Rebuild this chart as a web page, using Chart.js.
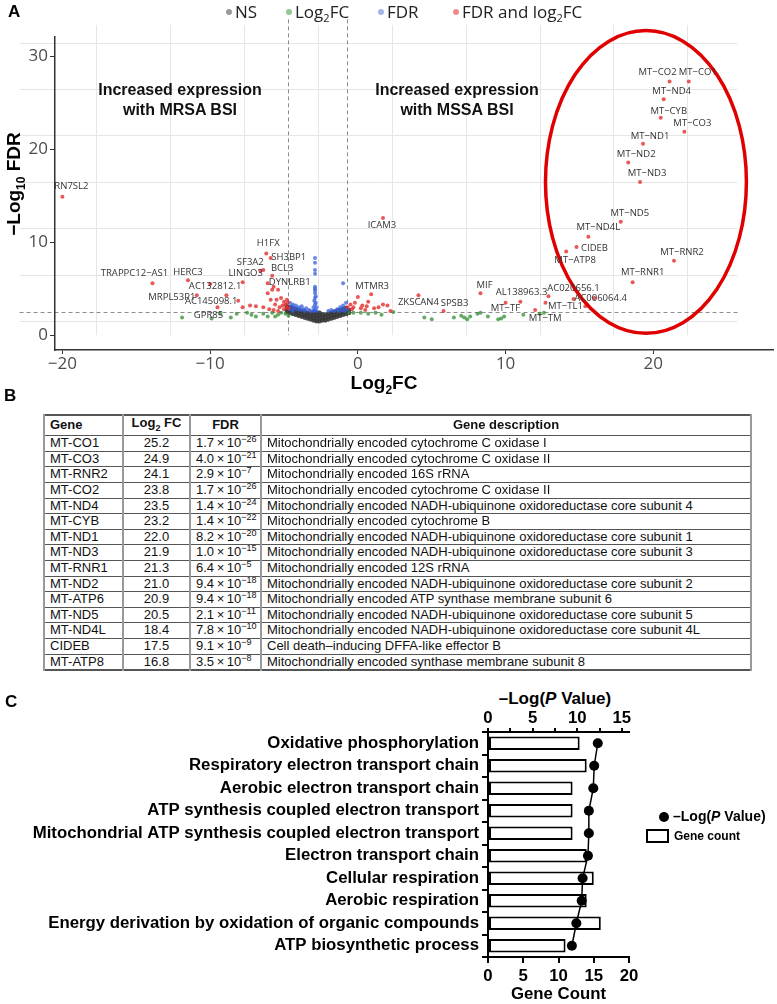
<!DOCTYPE html>
<html>
<head>
<meta charset="utf-8">
<script src="https://cdn.jsdelivr.net/npm/chart.js@4.4.0/dist/chart.umd.min.js"></script>
<style>
body{margin:0;background:#fff;font-family:'Liberation Sans',Arial,sans-serif;}
#page{position:relative;width:777px;height:1004px;overflow:hidden;}
.letter{position:absolute;font-weight:bold;font-size:17px;color:#000;}
.leg{position:absolute;top:0;font-family:'Open Sans',sans-serif;font-size:17px;color:#222;line-height:24px;white-space:nowrap;}
.leg i{display:inline-block;width:6px;height:6px;border-radius:50%;margin-right:3px;vertical-align:middle;position:relative;top:-1px;}
.leg sub{font-size:11px;}
.region{position:absolute;font-weight:bold;font-size:16px;text-align:center;line-height:20px;color:#111;transform:translateX(-50%);white-space:nowrap;}
.atitle{position:absolute;font-weight:bold;font-size:19px;color:#000;white-space:nowrap;line-height:22px;}
.atitle sub{font-size:12px;line-height:0;}
#tbl{position:absolute;left:43px;top:414px;width:709px;table-layout:fixed;border-collapse:collapse;font-size:13px;color:#111;border:2px solid #555;}
#tbl td,#tbl th{height:14.6px;line-height:14.6px;padding:0 5px;border-top:1px solid #555;border-bottom:1px solid #555;border-left:2px solid #999;border-right:2px solid #999;white-space:nowrap;overflow:hidden;}
#tbl th{text-align:center;}
#tbl th.l{text-align:left;}
#tbl td.c{text-align:center;}
#tbl sup{font-size:9px;line-height:0;vertical-align:5px;}
.ctitle{position:absolute;font-weight:bold;font-size:17px;transform:translateX(-50%);white-space:nowrap;}
.cleg{position:absolute;font-weight:bold;white-space:nowrap;}
</style>
</head>
<body>
<div id="page">
  <canvas id="volcano" width="777" height="400" style="position:absolute;left:0;top:0"></canvas>
  <div class="letter" style="left:8px;top:2px">A</div>
  <div class="leg" style="left:226px"><i style="background:#9a9a9a"></i>NS</div>
  <div class="leg" style="left:286px"><i style="background:#92c892"></i>Log<sub>2</sub>FC</div>
  <div class="leg" style="left:378px"><i style="background:#a6b4e6"></i>FDR</div>
  <div class="leg" style="left:453px"><i style="background:#ec8c8c"></i>FDR and log<sub>2</sub>FC</div>
  <div class="region" style="left:180px;top:80px">Increased expression<br>with MRSA BSI</div>
  <div class="region" style="left:457px;top:80px">Increased expression<br>with MSSA BSI</div>
  <div class="atitle" style="left:14px;top:184px;transform:translate(-50%,-50%) rotate(-90deg)">&minus;Log<sub>10</sub> FDR</div>
  <div class="atitle" style="left:384px;top:383px;transform:translate(-50%,-50%)">Log<sub>2</sub>FC</div>

  <div class="letter" style="left:4px;top:386px">B</div>
  <table id="tbl"></table>

  <div class="letter" style="left:5px;top:692px">C</div>
  <div class="ctitle" style="left:555px;top:689px">&ndash;Log(<i>P</i> Value)</div>
  <canvas id="enrich" width="777" height="314" style="position:absolute;left:0;top:690px"></canvas>
  <div class="cleg" style="left:659px;top:812px;width:10px;height:10px;border-radius:50%;background:#000"></div>
  <div class="cleg" style="left:673px;top:808px;font-size:14px">&ndash;Log(<i>P</i> Value)</div>
  <div class="cleg" style="left:646px;top:829px;width:19px;height:10px;border:2px solid #000;background:#fff"></div>
  <div class="cleg" style="left:674px;top:829px;font-size:12px">Gene count</div>
</div>
<script>
// ---- panel A: volcano plot ----
const labelGenes = ['RN7SL2','TRAPPC12\u2212AS1','HERC3','AC132812.1','MRPL53P1','AC145098.1','GPR85','LINGO3','SF3A2','H1FX','SH3BP1','BCL3','DYNLRB1',
  'ICAM3','MTMR3','ZKSCAN4','SPSB3','MIF','AL138963.3','MT\u2212TF','MT\u2212TM','MT\u2212TL1','AC020656.1','AC006064.4',
  'MT\u2212ATP8','CIDEB','MT\u2212ND4L','MT\u2212ND5','MT\u2212RNR2','MT\u2212RNR1','MT\u2212ND3','MT\u2212ND2','MT\u2212ND1','MT\u2212CO3','MT\u2212CYB','MT\u2212ND4','MT\u2212CO2','MT\u2212CO1'];
const labelLog2FC = [-20.0,-13.9,-11.5,-10.0,-10.9,-8.1,-9.5,-7.8,-6.4,-6.2,-5.9,-5.8,-6.1,
  1.7,0.9,4.1,5.8,8.3,10.0,11.0,12.0,12.7,12.9,14.6,
  14.1,14.8,15.6,17.8,21.4,18.6,19.1,18.3,19.3,22.1,20.5,20.7,21.1,22.4];
const labelNegLogFDR = [14.9,5.6,5.9,5.5,4.3,3.7,3.0,5.7,7.0,8.8,8.3,6.4,5.6,
  12.6,4.4,4.3,2.6,4.5,3.5,3.6,2.7,3.5,4.2,3.9,
  9.0,9.5,10.6,12.2,8.0,5.7,16.5,18.6,20.6,21.9,23.4,25.4,27.3,27.3];
// other significant points (log2FC, -log10 FDR)
const redOther = [[-8.9,4.3],[-7.3,3.2],[-6.9,3.1],[-7.8,3.0],[-6.6,6.9],[-5.7,5.2],[-6.1,4.5],[-5.8,4.9],[-5.4,4.9],[-5.9,3.8],
  [-5.5,3.8],[-5.2,4.0],[-5.0,3.6],[-4.8,3.0],[-5.3,3.0],[-5.6,3.3],[-5.0,2.8],[-4.9,3.3],[-4.7,2.9],[-4.8,3.8],[-6.4,3.0],
  [-6.0,2.8],[-5.7,2.7],[-5.1,3.2],[-4.75,3.5],[-5.4,2.6],
  [-0.7,3.0],[-0.5,3.3],[-0.4,2.8],[-0.3,3.0],[-0.2,3.5],[0.0,4.1],[0.2,2.9],[0.3,3.2],[0.5,2.7],[0.6,3.1],[0.7,3.6],
  [1.1,2.9],[1.4,3.0],[1.7,3.3],[2.0,3.2],[2.2,2.6],[15.4,3.1],[16.0,4.0]];
const bluePts = [[-2.9,8.3],[-2.9,7.8],[-2.9,7.0],[-2.9,6.6],[-2.9,5.2],[-2.9,5.0],[-2.9,4.8],[-2.9,4.5],[-2.85,4.2],[-2.9,4.0],
  [-2.95,3.7],[-2.85,3.5],[-2.9,3.3],[-3.0,3.0],[-2.8,3.0],[-2.9,2.7],[-3.0,2.6],[-2.8,2.6],
  [-4.6,3.5],[-4.5,3.1],[-4.4,3.3],[-4.3,2.9],[-4.2,3.2],[-4.1,2.8],[-4.0,3.0],[-3.9,2.7],[-3.8,3.1],[-3.7,2.8],[-3.6,2.6],
  [-3.5,2.9],[-3.3,2.7],[-4.6,2.8],[-4.4,2.6],[-3.2,2.6],
  [-1.6,2.6],[-1.4,2.8],[-1.3,2.6],[-1.2,3.0],[-1.1,2.7],[-1.0,3.2],[-0.9,2.9],[-0.8,3.5],[-0.7,2.8],[-0.9,2.6],[-1.0,5.6],[-2.0,2.6],[-1.8,2.7]];
const greenPts = [[-11.9,1.9],[-9.9,1.8],[-9.3,2.3],[-8.6,1.9],[-8.2,2.3],[-7.5,2.4],[-7.2,2.2],[-6.9,2.0],[-6.4,2.3],[-6.1,2.0],
  [-5.8,2.4],[-5.4,2.2],[-5.2,2.4],[-4.9,2.3],[-5.6,2.0],[-4.7,2.1],
  [-0.6,2.4],[-0.3,2.4],[0.2,2.4],[0.7,2.3],[1.2,2.4],[1.6,2.2],[2.4,2.5],[4.5,1.9],[5.0,1.7],[6.5,1.9],[7.0,2.1],[7.2,1.9],
  [7.4,1.7],[7.6,2.0],[8.1,2.3],[8.3,2.4],[8.8,2.0],[9.5,1.7],[9.7,1.8],[9.9,2.0],[11.2,2.2],[12.3,2.3],[12.6,2.4]];
const nsPts = [[-4.8,2.5],[-4.8,2.8],[-4.8,3.1],[-4.6,2.4],[-4.6,2.7],[-4.6,3.0],[-4.4,2.3],[-4.4,2.6],[-4.4,2.9],
  [-4.2,2.2],[-4.2,2.5],[-4.2,2.8],[-4.0,2.1],[-4.0,2.4],[-4.0,2.7],[-3.8,2.0],[-3.8,2.3],[-3.8,2.6],
  [-3.6,1.9],[-3.6,2.2],[-3.6,2.5],[-3.4,1.8],[-3.4,2.1],[-3.4,2.4],[-3.2,1.7],[-3.2,2.0],[-3.2,2.3],
  [-3.0,1.6],[-3.0,1.9],[-3.0,2.2],[-3.0,2.5],[-2.8,1.5],[-2.8,1.8],[-2.8,2.1],[-2.8,2.4],
  [-2.6,1.5],[-2.6,1.8],[-2.6,2.1],[-2.6,2.4],[-2.4,1.6],[-2.4,1.9],[-2.4,2.2],[-2.2,1.6],[-2.2,1.9],[-2.2,2.2],
  [-2.0,1.7],[-2.0,2.0],[-2.0,2.3],[-1.8,1.8],[-1.8,2.1],[-1.8,2.4],[-1.6,1.9],[-1.6,2.2],[-1.6,2.5],
  [-1.4,2.0],[-1.4,2.3],[-1.4,2.6],[-1.2,2.1],[-1.2,2.4],[-1.2,2.7],[-1.0,2.2],[-1.0,2.5],[-1.0,2.8],
  [-0.8,2.3],[-0.8,2.6],[-0.8,2.9],[-0.6,2.4],[-0.6,2.7]];
const volcanoXTicks = [-20, -10, 0, 10, 20];
const volcanoYTicks = [0, 10, 20, 30];

// label offsets in px from their point
const labelNudge = {
  'RN7SL2':[9,-10],'TRAPPC12\u2212AS1':[-18,-10],'HERC3':[0,-8],'AC132812.1':[5,2],'MRPL53P1':[-25,2],'AC145098.1':[-27,1],
  'GPR85':[-9,8],'LINGO3':[3,-9],'SF3A2':[-13,-8],'H1FX':[2,-10],'SH3BP1':[18,-1],'BCL3':[10,-7],'DYNLRB1':[22,-1],
  'ICAM3':[-1,7],'MTMR3':[1,-8],'ZKSCAN4':[0,7],'SPSB3':[11,-8],'MIF':[4,-8],'AL138963.3':[16,-10],'MT\u2212TF':[-15,7],
  'MT\u2212TM':[10,8],'MT\u2212TL1':[20,4],'AC020656.1':[25,-8],'AC006064.4':[27,-1],'MT\u2212ATP8':[9,9],'CIDEB':[18,1],
  'MT\u2212ND4L':[10,-9],'MT\u2212ND5':[9,-9],'MT\u2212RNR2':[8,-9],'MT\u2212RNR1':[10,-10],'MT\u2212ND3':[7,-9],'MT\u2212ND2':[8,-8],
  'MT\u2212ND1':[7,-8],'MT\u2212CO3':[8,-8],'MT\u2212CYB':[8,-7],'MT\u2212ND4':[8,-8],'MT\u2212CO2':[-12,-9],'MT\u2212CO1':[9,-9]
};

const toXY = arr => arr.map(p => ({x: p[0], y: p[1]}));
const redPts = labelLog2FC.map((v, i) => ({x: v, y: labelNegLogFDR[i]})).concat(toXY(redOther));

const volcanoDecor = {
  id: 'volcanoDecor',
  beforeDraw(chart, args, o) {
    const {ctx, scales: {x, y}} = chart;
    const l = x.getPixelForValue(o.panelX[0]), r = x.getPixelForValue(o.panelX[1]);
    const b = y.getPixelForValue(o.panelY[0]), t = y.getPixelForValue(o.panelY[1]);
    ctx.save();
    ctx.strokeStyle = '#e6e6e6';
    ctx.lineWidth = 1;
    ctx.beginPath();
    o.gridX.forEach(v => { const p = Math.round(x.getPixelForValue(v)) + 0.5; ctx.moveTo(p, t); ctx.lineTo(p, b); });
    o.gridY.forEach(v => { const p = Math.round(y.getPixelForValue(v)) + 0.5; ctx.moveTo(l, p); ctx.lineTo(r, p); });
    ctx.stroke();
    ctx.setLineDash([4, 3]);
    ctx.strokeStyle = '#8c8c8c';
    ctx.beginPath();
    o.cutX.forEach(v => { const p = Math.round(x.getPixelForValue(v)) + 0.5; ctx.moveTo(p, y.getPixelForValue(o.cutTop)); ctx.lineTo(p, b); });
    const hp = Math.round(y.getPixelForValue(o.cutY)) + 0.5;
    ctx.moveTo(l, hp); ctx.lineTo(r, hp);
    ctx.stroke();
    ctx.restore();
  },
  afterDatasetsDraw(chart, args, o) {
    const {ctx, scales: {x, y}} = chart;
    ctx.save();
    // highlight ellipse
    const cx = x.getPixelForValue(o.ring.x), cy = y.getPixelForValue(o.ring.y);
    const rx = Math.abs(x.getPixelForValue(o.ring.x + o.ring.rx) - cx);
    const ry = Math.abs(y.getPixelForValue(o.ring.y + o.ring.ry) - cy);
    ctx.strokeStyle = '#e00000';
    ctx.lineWidth = 3.5;
    ctx.beginPath();
    ctx.ellipse(cx, cy, rx, ry, 0, 0, Math.PI * 2);
    ctx.stroke();
    // gene labels
    ctx.font = '9.5px "Open Sans"';
    ctx.fillStyle = '#333';
    ctx.textAlign = 'center';
    ctx.textBaseline = 'middle';
    labelGenes.forEach((g, i) => {
      const n = labelNudge[g] || [0, -9];
      ctx.fillText(g, x.getPixelForValue(labelLog2FC[i]) + n[0], y.getPixelForValue(labelNegLogFDR[i]) + n[1]);
    });
    ctx.restore();
  }
};

const tickFontA = {family: 'Open Sans', size: 17};
new Chart(document.getElementById('volcano'), {
  type: 'scatter',
  data: {
    datasets: [
      {label: 'FDR and log2FC', data: redPts, backgroundColor: 'rgba(228,45,45,0.8)', pointRadius: 2, borderWidth: 0},
      {label: 'FDR', data: toXY(bluePts), backgroundColor: 'rgba(55,95,220,0.75)', pointRadius: 2, borderWidth: 0},
      {label: 'Log2FC', data: toXY(greenPts), backgroundColor: 'rgba(50,140,50,0.75)', pointRadius: 2, borderWidth: 0},
      {label: 'NS', data: toXY(nsPts), backgroundColor: 'rgba(55,55,55,0.9)', pointRadius: 2.4, borderWidth: 0}
    ]
  },
  options: {
    responsive: false,
    animation: false,
    layout: {padding: {top: 37, right: 4, left: 0, bottom: 0}},
    plugins: {
      legend: {display: false},
      tooltip: {enabled: false},
      volcanoDecor: {
        panelX: [-22.9, 25.7], panelY: [0, 33.4],
        gridX: [-17.7, -12.7, -7.7, -2.7, 2.3, 7.3, 12.3, 17.3, 22.3],
        gridY: [1.5, 6.5, 11.5, 16.5, 21.5, 26.5, 31.5],
        cutX: [-4.7, -0.75], cutY: 2.5, cutTop: 34.0,
        ring: {x: 19.5, y: 16.5, rx: 6.8, ry: 16.3}
      }
    },
    scales: {
      x: {
        type: 'linear', min: -20.5, max: 28.1,
        afterBuildTicks: s => { s.ticks = volcanoXTicks.map(v => ({value: v})); },
        ticks: {color: '#4d4d4d', font: tickFontA, padding: 0, callback: v => String(v).replace('-', '\u2212')},
        grid: {display: true, drawOnChartArea: false, drawTicks: true, tickLength: 4, color: '#333', lineWidth: 1},
        border: {display: true, color: '#333', width: 1.5},
        afterFit: s => { s.height = 50; }
      },
      y: {
        type: 'linear', min: -1.6, max: 32.1,
        afterBuildTicks: s => { s.ticks = volcanoYTicks.map(v => ({value: v})); },
        ticks: {color: '#4d4d4d', font: tickFontA, padding: 2},
        grid: {display: true, drawOnChartArea: false, drawTicks: true, tickLength: 5, color: '#333', lineWidth: 1},
        border: {display: true, color: '#333', width: 1.5},
        afterFit: s => { s.width = 55; }
      }
    }
  },
  plugins: [volcanoDecor]
});

// ---- panel B: table ----
const tblGene = ['MT-CO1','MT-CO3','MT-RNR2','MT-CO2','MT-ND4','MT-CYB','MT-ND1','MT-ND3','MT-RNR1','MT-ND2','MT-ATP6','MT-ND5','MT-ND4L','CIDEB','MT-ATP8'];
const tblLog2FC = ['25.2','24.9','24.1','23.8','23.5','23.2','22.0','21.9','21.3','21.0','20.9','20.5','18.4','17.5','16.8'];
const tblFdrMant = ['1.7','4.0','2.9','1.7','1.4','1.4','8.2','1.0','6.4','9.4','9.4','2.1','7.8','9.1','3.5'];
const tblFdrExp = [-26,-21,-7,-26,-24,-22,-20,-15,-5,-18,-18,-11,-10,-9,-8];
const nadh = 'Mitochondrially encoded NADH-ubiquinone oxidoreductase core subunit ';
const tblDesc = ['Mitochondrially encoded cytochrome C oxidase I','Mitochondrially encoded cytochrome C oxidase II','Mitochondrially encoded 16S rRNA',
  'Mitochondrially encoded cytochrome C oxidase II', nadh + '4','Mitochondrially encoded cytochrome B', nadh + '1', nadh + '3',
  'Mitochondrially encoded 12S rRNA', nadh + '2','Mitochondrially encoded ATP synthase membrane subunit 6', nadh + '5', nadh + '4L',
  'Cell death\u2013inducing DFFA-like effector B','Mitochondrially encoded synthase membrane subunit 8'];

let html = '<colgroup><col style="width:79px"><col style="width:67px"><col style="width:71px"><col></colgroup>' +
  '<tr><th class="l">Gene</th><th>Log<sub style="font-size:9px">2</sub> FC</th><th>FDR</th><th>Gene description</th></tr>';
tblGene.forEach((g, i) => {
  html += '<tr><td>' + g + '</td><td class="c">' + tblLog2FC[i] + '</td><td>' + tblFdrMant[i] +
    '\u2009\u00d7\u200910<sup>' + String(tblFdrExp[i]).replace('-', '\u2212') + '</sup></td><td>' + tblDesc[i] + '</td></tr>';
});
document.getElementById('tbl').innerHTML = html;

// ---- panel C: enrichment ----
const terms = ['Oxidative phosphorylation','Respiratory electron transport chain','Aerobic electron transport chain',
  'ATP synthesis coupled electron transport','Mitochondrial ATP synthesis coupled electron transport','Electron transport chain',
  'Cellular respiration','Aerobic respiration','Energy derivation by oxidation of organic compounds','ATP biosynthetic process'];
const geneCount = [13, 14, 12, 12, 12, 14, 15, 14, 16, 11];
const negLogP = [12.3, 11.9, 11.8, 11.3, 11.3, 11.2, 10.6, 10.5, 9.9, 9.4];

const boldC = {family: 'Liberation Sans', size: 16.8, weight: 'bold'};
new Chart(document.getElementById('enrich'), {
  type: 'bar',
  data: {
    labels: terms,
    datasets: [
      {type: 'line', label: '\u2013Log(P Value)', data: negLogP, xAxisID: 'xp', yAxisID: 'y', order: 0,
       borderColor: '#000', borderWidth: 1.5, pointRadius: 5, pointBackgroundColor: '#000', pointBorderWidth: 0},
      {type: 'bar', label: 'Gene count', data: geneCount, xAxisID: 'x', yAxisID: 'y', order: 1,
       backgroundColor: '#fff', borderColor: '#000', borderWidth: 2, borderSkipped: false, barPercentage: 0.6, categoryPercentage: 1}
    ]
  },
  options: {
    indexAxis: 'y',
    responsive: false,
    animation: false,
    layout: {padding: {top: 0, right: 148, left: 0, bottom: 0}},
    plugins: {legend: {display: false}, tooltip: {enabled: false}},
    scales: {
      y: {
        type: 'category', position: 'left', offset: true,
        ticks: {color: '#000', font: boldC, padding: 3, autoSkip: false},
        grid: {display: true, drawOnChartArea: false, tickLength: 6, color: '#000', lineWidth: 2},
        border: {display: true, color: '#000', width: 2},
        afterFit: s => { s.width = 488; }
      },
      x: {
        type: 'linear', position: 'bottom', min: 0, max: 20,
        ticks: {stepSize: 5, color: '#000', font: boldC, padding: 3, maxRotation: 0, minRotation: 0},
        grid: {display: true, drawOnChartArea: false, tickLength: 6, color: '#000', lineWidth: 2},
        border: {display: true, color: '#000', width: 2},
        title: {display: true, text: 'Gene Count', color: '#000', font: boldC, padding: {top: 0, bottom: 0}},
        afterFit: s => { s.height = 47; }
      },
      xp: {
        type: 'linear', position: 'top', min: 0, max: 15.8,
        ticks: {stepSize: 2.5, includeBounds: false, color: '#000', font: boldC, padding: 0,
                maxRotation: 0, minRotation: 0, autoSkip: false,
                callback: v => (v % 5 === 0 ? v : '')},
        grid: {display: true, drawOnChartArea: false, tickLength: 4, color: '#000', lineWidth: 2},
        border: {display: true, color: '#000', width: 2},
        afterFit: s => { s.height = 42; }
      }
    }
  }
});
</script>
</body>
</html>
